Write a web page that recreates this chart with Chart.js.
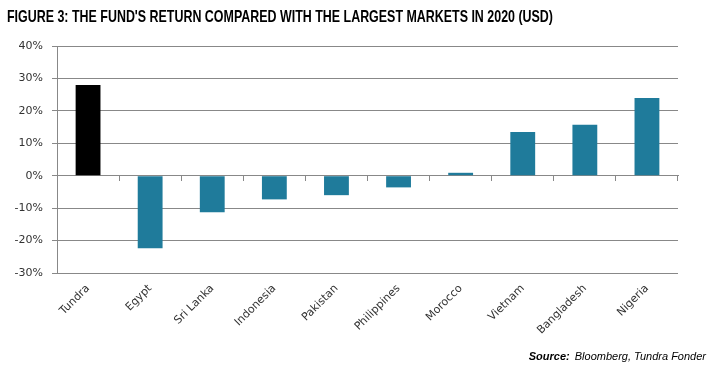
<!DOCTYPE html>
<html>
<head>
<meta charset="utf-8">
<script src="https://cdn.jsdelivr.net/npm/chart.js@4/dist/chart.umd.min.js"></script>
<style>
  html, body { margin: 0; padding: 0; background: #fff; }
  #wrap { position: relative; width: 717px; height: 370px; overflow: hidden; }
  #title { position: absolute; left: 7px; top: 6px; margin: 0; white-space: nowrap;
           font-family: "Liberation Sans", Arial, sans-serif; font-weight: bold; font-size: 16.5px;
           line-height: 20px; color: #000; transform-origin: 0 0; }
  #source { position: absolute; right: 11px; top: 349px; margin: 0; white-space: nowrap;
            font-family: "Liberation Sans", Arial, sans-serif; font-style: italic; font-size: 11px;
            line-height: 14px; color: #000; }
  #source b { font-weight: bold; margin-right: 5px; }
</style>
</head>
<body>
<div id="wrap">
  <canvas id="c" width="717" height="370"></canvas>
  <div id="title"></div>
  <div id="source"></div>
</div>
<script>
const categories = ['Tundra', 'Egypt', 'Sri Lanka', 'Indonesia', 'Pakistan', 'Philippines', 'Morocco', 'Vietnam', 'Bangladesh', 'Nigeria'];
const returns2020 = [28.0, -22.4, -11.3, -7.3, -6.0, -3.6, 0.9, 13.5, 15.7, 24.0];
const barColors = ['#000000', '#1F7B9B', '#1F7B9B', '#1F7B9B', '#1F7B9B', '#1F7B9B', '#1F7B9B', '#1F7B9B', '#1F7B9B', '#1F7B9B'];
const yTickValues = [-30, -20, -10, 0, 10, 20, 30, 40];
const titleText = "FIGURE 3: THE FUND'S RETURN COMPARED WITH THE LARGEST MARKETS IN 2020 (USD)";
const sourceLabel = 'Source:';
const sourceText = 'Bloomberg, Tundra Fonder';

const titleEl = document.getElementById('title');
titleEl.textContent = titleText;
const titleW = titleEl.getBoundingClientRect().width;
titleEl.style.transform = 'scaleX(' + (546 / titleW) + ')';

const srcEl = document.getElementById('source');
const bEl = document.createElement('b');
bEl.textContent = sourceLabel;
srcEl.appendChild(bEl);
srcEl.appendChild(document.createTextNode(sourceText));

const gridColor = '#888888';
const textColor = '#333333';
const tickFont = { family: 'DejaVu Sans', size: 11 };

new Chart(document.getElementById('c'), {
  type: 'bar',
  data: {
    labels: categories,
    datasets: [{
      data: returns2020,
      backgroundColor: barColors,
      borderWidth: 0,
      barPercentage: 0.4,
      categoryPercentage: 1.0,
      xAxisID: 'x',
      yAxisID: 'y'
    }]
  },
  options: {
    responsive: false,
    animation: false,
    layout: { padding: { left: 7, right: 39, top: 46, bottom: 0 } },
    plugins: {
      legend: { display: false },
      tooltip: { enabled: false },
      title: { display: false }
    },
    scales: {
      x: {
        type: 'category',
        position: 'bottom',
        offset: true,
        grid: { display: false, drawTicks: false },
        border: { display: false },
        ticks: { color: textColor, font: tickFont, minRotation: 45, maxRotation: 45, padding: 9, autoSkip: false },
        afterFit(scale) { scale.height = 97; }
      },
      x2: {
        type: 'category',
        position: { y: 0 },
        offset: true,
        grid: { display: true, offset: true, drawOnChartArea: false, drawTicks: true, tickLength: 5, color: gridColor, lineWidth: 1 },
        border: { display: true, color: gridColor, width: 1 },
        ticks: { display: false }
      },
      y: {
        min: -30,
        max: 40,
        afterBuildTicks(scale) { scale.ticks = yTickValues.map(v => ({ value: v })); },
        grid: { color: gridColor, lineWidth: 1, drawTicks: true, tickLength: 5 },
        border: { display: true, color: gridColor, width: 1 },
        ticks: { color: textColor, font: tickFont, padding: 9, callback: v => v + '%' },
        afterFit(scale) { scale.width = 50; }
      }
    }
  }
});
</script>
</body>
</html>
